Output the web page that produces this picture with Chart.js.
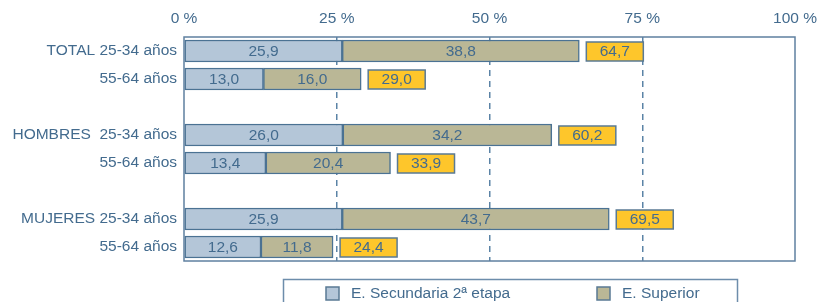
<!DOCTYPE html>
<html>
<head>
<meta charset="utf-8">
<script src="https://cdn.jsdelivr.net/npm/chart.js@4/dist/chart.umd.min.js"></script>
<style>
  html, body { margin: 0; padding: 0; background: #fff; }
</style>
</head>
<body>
<canvas id="grafico" width="821" height="302"></canvas>
<script>
// datos
const categorias = ['TOTAL 25-34 años', '55-64 años', '', 'HOMBRES  25-34 años', '55-64 años', '', 'MUJERES 25-34 años', '55-64 años'];
const secundaria = [25.9, 13.0, null, 26.0, 13.4, null, 25.9, 12.6];
const superior = [38.8, 16.0, null, 34.2, 20.4, null, 43.7, 11.8];
const totales = [64.7, 29.0, null, 60.2, 33.9, null, 69.5, 24.4];
const ticksX = [0, 25, 50, 75, 100];
const series = ['E. Secundaria 2ª etapa', 'E. Superior'];

const FUENTE = '"Liberation Sans", Arial, sans-serif';
const TEXTO = '#436b8e';
const BORDE = '#4b7293';
const fmt = v => v.toFixed(1).replace('.', ',');

// marco del área del gráfico
const marco = {
    id: 'marco',
    afterDatasetsDraw(chart) {
        const { ctx, chartArea: a } = chart;
        ctx.save();
        ctx.strokeStyle = '#5f80a0';
        ctx.lineWidth = 1.5;
        ctx.strokeRect(a.left, a.top, a.right - a.left, a.bottom - a.top);
        ctx.restore();
    }
};

// valores dentro de las barras y cajas amarillas con el total
const etiquetas = {
    id: 'etiquetas',
    afterDatasetsDraw(chart) {
        const ctx = chart.ctx;
        ctx.save();
        ctx.font = '15.5px ' + FUENTE;
        ctx.textAlign = 'center';
        ctx.textBaseline = 'middle';
        chart.data.datasets.forEach((ds, i) => {
            chart.getDatasetMeta(i).data.forEach((bar, j) => {
                if (ds.data[j] == null) return;
                ctx.fillStyle = TEXTO;
                ctx.fillText(fmt(ds.data[j]), (bar.x + bar.base) / 2, bar.y + 1);
            });
        });
        const meta = chart.getDatasetMeta(1);
        totales.forEach((t, j) => {
            if (t == null) return;
            const bar = meta.data[j];
            const x0 = bar.x + 7;
            const w = 57, h = 19;
            ctx.fillStyle = '#fec62b';
            ctx.fillRect(x0, bar.y - h / 2 + 0.5, w, h);
            ctx.strokeStyle = '#5a7a94';
            ctx.lineWidth = 1.5;
            ctx.strokeRect(x0, bar.y - h / 2 + 0.5, w, h);
            ctx.fillStyle = TEXTO;
            ctx.fillText(fmt(t), x0 + w / 2, bar.y + 1);
        });
        ctx.restore();
    }
};

// leyenda con recuadro
const leyenda = {
    id: 'leyenda',
    afterDraw(chart) {
        const ctx = chart.ctx;
        ctx.save();
        ctx.strokeStyle = '#6d8dab';
        ctx.lineWidth = 1.5;
        ctx.strokeRect(283.5, 279.5, 454, 40);
        const pos = [326, 597];
        ctx.font = '15.5px ' + FUENTE;
        ctx.textBaseline = 'middle';
        ctx.textAlign = 'left';
        chart.data.datasets.forEach((ds, i) => {
            ctx.fillStyle = ds.backgroundColor;
            ctx.fillRect(pos[i], 287, 13, 13);
            ctx.strokeStyle = '#5a7a94';
            ctx.lineWidth = 1.5;
            ctx.strokeRect(pos[i], 287, 13, 13);
            ctx.fillStyle = TEXTO;
            ctx.fillText(ds.label, pos[i] + 25, 294);
        });
        ctx.restore();
    }
};

new Chart(document.getElementById('grafico'), {
    type: 'bar',
    data: {
        labels: categorias,
        datasets: [{
            label: series[0],
            data: secundaria,
            backgroundColor: '#b4c6d8',
            borderColor: BORDE,
            borderWidth: 1.5,
            borderSkipped: false,
            barThickness: 22
        }, {
            label: series[1],
            data: superior,
            backgroundColor: '#bab796',
            borderColor: BORDE,
            borderWidth: 1.5,
            borderSkipped: false,
            barThickness: 22
        }]
    },
    options: {
        indexAxis: 'y',
        responsive: false,
        animation: false,
        layout: { padding: { left: 0, top: 0, right: 26, bottom: 41 } },
        plugins: {
            legend: { display: false },
            tooltip: { enabled: false }
        },
        scales: {
            x: {
                position: 'top',
                stacked: true,
                min: 0,
                max: 100,
                afterBuildTicks: scale => { scale.ticks = ticksX.map(v => ({ value: v })); },
                afterFit: scale => {
                    scale.height = 37;
                    scale.paddingLeft = 0;
                    scale.paddingRight = 0;
                },
                ticks: {
                    color: TEXTO,
                    font: { family: FUENTE, size: 15.5 },
                    padding: 9,
                    maxRotation: 0,
                    callback: v => v + ' %'
                },
                grid: {
                    drawTicks: false,
                    lineWidth: 1.5,
                    color: c => (c.tick && c.tick.value > 0 && c.tick.value < 100) ? '#5b83a6' : 'rgba(0,0,0,0)'
                },
                border: { display: false, dash: [6, 5] }
            },
            y: {
                stacked: true,
                afterFit: scale => { scale.width = 184; },
                ticks: {
                    color: TEXTO,
                    font: { family: FUENTE, size: 15.5 },
                    padding: 7
                },
                grid: { display: false, drawTicks: false },
                border: { display: false }
            }
        }
    },
    plugins: [marco, etiquetas, leyenda]
});
</script>
</body>
</html>
